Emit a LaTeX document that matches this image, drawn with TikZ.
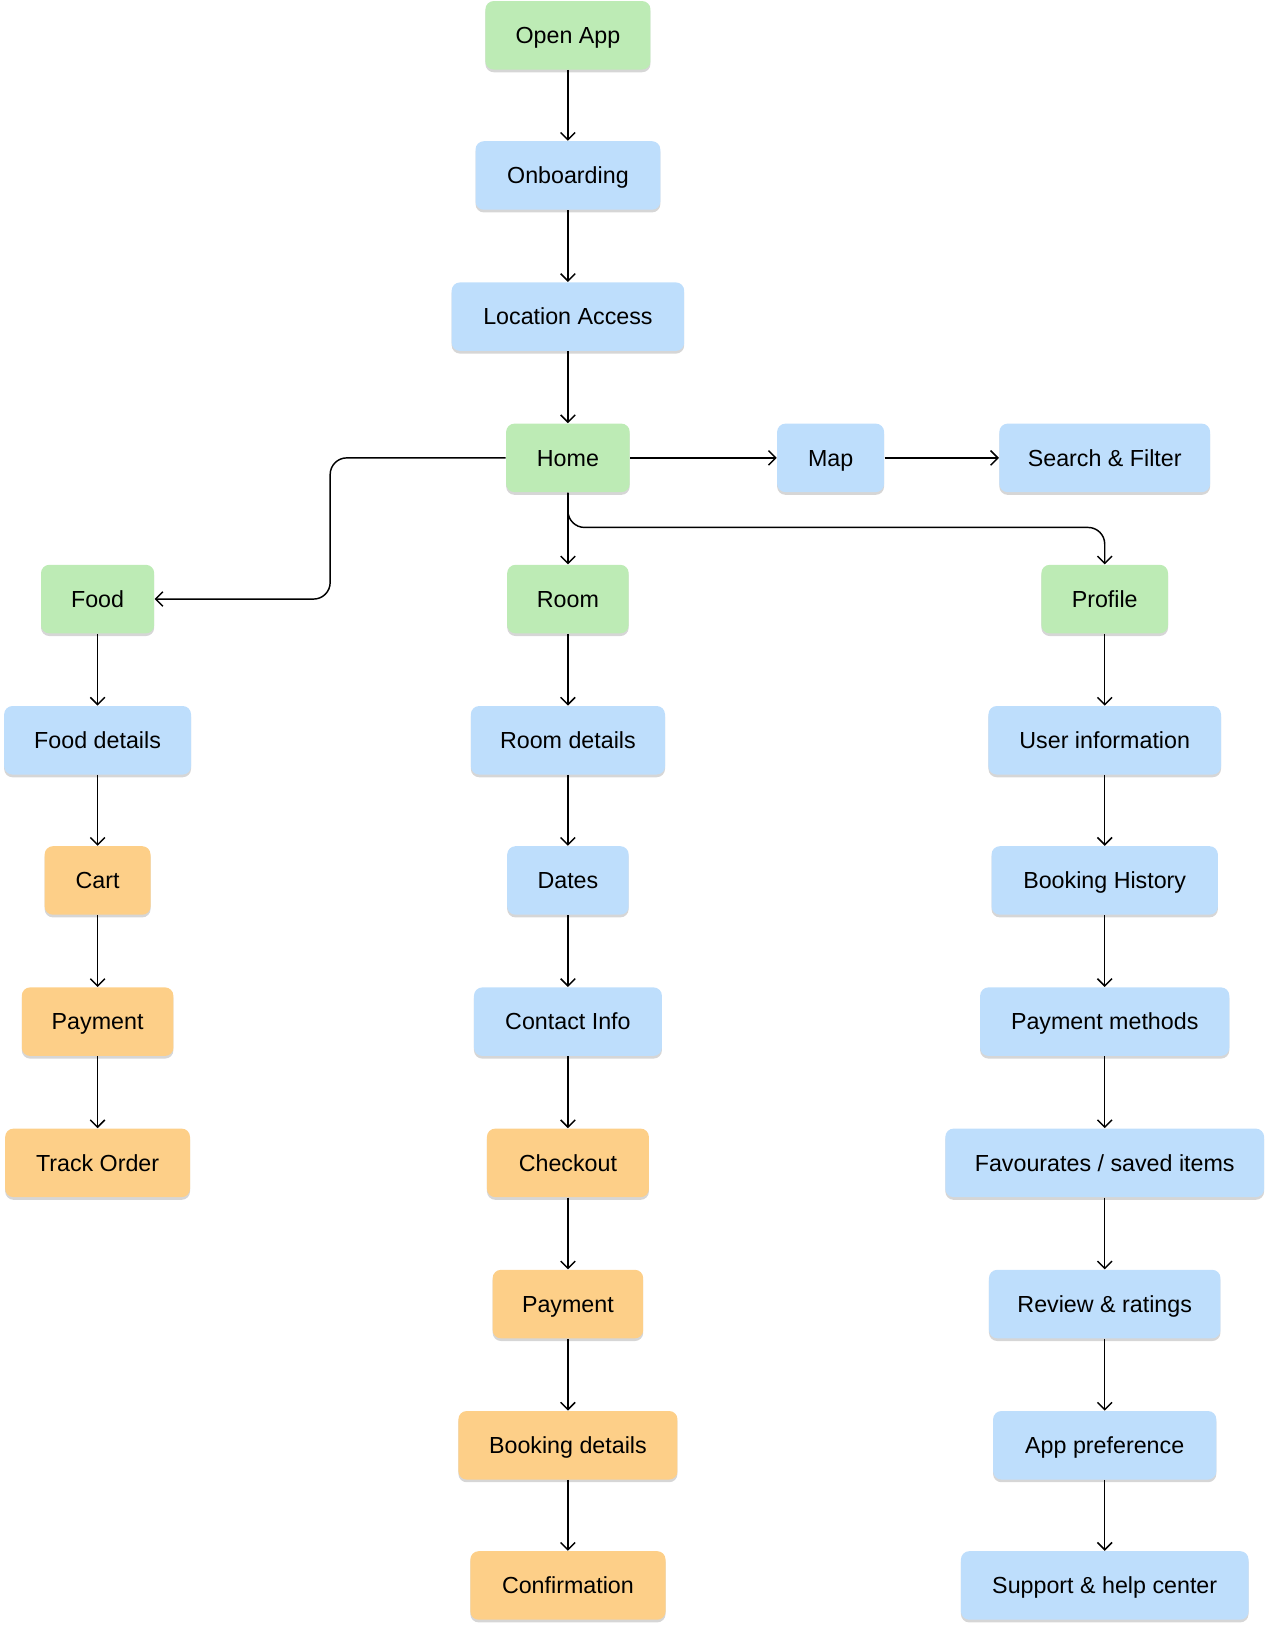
\documentclass[tikz,border=0pt]{standalone}
\usepackage{fontspec}
\setmainfont{Liberation Sans}
\usetikzlibrary{arrows.meta,shadows}
\definecolor{appgreen}{HTML}{BDEBB5}
\definecolor{appblue}{HTML}{BEDEFC}
\definecolor{apporange}{HTML}{FDCF88}

\begin{document}
\begin{tikzpicture}[x=0.5pt,y=-0.5pt,
    box/.style={rectangle, rounded corners=4pt, minimum height=33pt, inner sep=0pt,
      text height=9.8pt, text depth=1.8pt,
      font=\fontsize{11.2}{13}\selectfont,
      drop shadow={shadow xshift=0pt, shadow yshift=-1.3pt, fill=black, opacity=0.16}},
    gbox/.style={box, fill=appgreen},
    bbox/.style={box, fill=appblue},
    obox/.style={box, fill=apporange},
    arr/.style={-{Straight Barb[length=3.5pt,width=7pt]}, line width=0.7pt, black}]
      \useasboundingbox (0,0) rectangle (1222,1568);
      % main column
      \node[gbox, minimum width=79.5pt] (open) at (547,34) {Open App};
      \node[bbox, minimum width=89pt] (onb) at (547,169) {Onboarding};
      \node[bbox, minimum width=112pt] (loc) at (547,305) {Location Access};
      \node[gbox, minimum width=59.5pt] (home) at (547,441) {Home};
      \node[bbox, minimum width=51.5pt] (map) at (800,441) {Map};
      \node[bbox, minimum width=101.5pt] (search) at (1064,441) {Search \& Filter};
      % food
      \node[gbox, minimum width=54.5pt] (food) at (94,577) {Food};
      \node[bbox, minimum width=90pt] (fdet) at (94,713) {Food details};
      \node[obox, minimum width=51pt] (cart) at (94,848) {Cart};
      \node[obox, minimum width=73pt] (fpay) at (94,984) {Payment};
      \node[obox, minimum width=89pt] (track) at (94,1120) {Track Order};
      % room
      \node[gbox, minimum width=58.5pt] (room) at (547,577) {Room};
      \node[bbox, minimum width=93.5pt] (rdet) at (547,713) {Room details};
      \node[bbox, minimum width=58.5pt] (dates) at (547,848) {Dates};
      \node[bbox, minimum width=90.5pt] (contact) at (547,984) {Contact Info};
      \node[obox, minimum width=78pt] (checkout) at (547,1120) {Checkout};
      \node[obox, minimum width=72.5pt] (rpay) at (547,1256) {Payment};
      \node[obox, minimum width=105.5pt] (bdet) at (547,1392) {Booking details};
      \node[obox, minimum width=94pt] (conf) at (547,1527) {Confirmation};
      % profile
      \node[gbox, minimum width=61pt] (profile) at (1064,577) {Profile};
      \node[bbox, minimum width=112pt] (user) at (1064,713) {User information};
      \node[bbox, minimum width=109pt] (hist) at (1064,848) {Booking History};
      \node[bbox, minimum width=120pt] (pmeth) at (1064,984) {Payment methods};
      \node[bbox, minimum width=153.5pt] (fav) at (1064,1120) {Favourates / saved items};
      \node[bbox, minimum width=111.5pt] (review) at (1064,1256) {Review \& ratings};
      \node[bbox, minimum width=107.5pt] (pref) at (1064,1392) {App preference};
      \node[bbox, minimum width=138.5pt] (support) at (1064,1527) {Support \& help center};
      \coordinate (bendF) at (318,577);
      \coordinate (bendP) at (1064,508);
      % connectors
      \draw[arr] (open) -- (onb);
      \draw[arr] (onb) -- (loc);
      \draw[arr] (loc) -- (home);
      \draw[arr] (home) -- (map);
      \draw[arr] (map) -- (search);
      \draw[arr] (home) -- (room);
      \draw[arr, rounded corners=8pt] (home.west) -| (bendF) -- (food.east);
      \draw[arr, rounded corners=8pt] (home.south) |- (bendP) -- (profile.north);
      \draw[arr] (food) -- (fdet);
      \draw[arr] (fdet) -- (cart);
      \draw[arr] (cart) -- (fpay);
      \draw[arr] (fpay) -- (track);
      \draw[arr] (room) -- (rdet);
      \draw[arr] (rdet) -- (dates);
      \draw[arr] (dates) -- (contact);
      \draw[arr] (contact) -- (checkout);
      \draw[arr] (checkout) -- (rpay);
      \draw[arr] (rpay) -- (bdet);
      \draw[arr] (bdet) -- (conf);
      \draw[arr] (profile) -- (user);
      \draw[arr] (user) -- (hist);
      \draw[arr] (hist) -- (pmeth);
      \draw[arr] (pmeth) -- (fav);
      \draw[arr] (fav) -- (review);
      \draw[arr] (review) -- (pref);
      \draw[arr] (pref) -- (support);
    \end{tikzpicture}
\end{document}
